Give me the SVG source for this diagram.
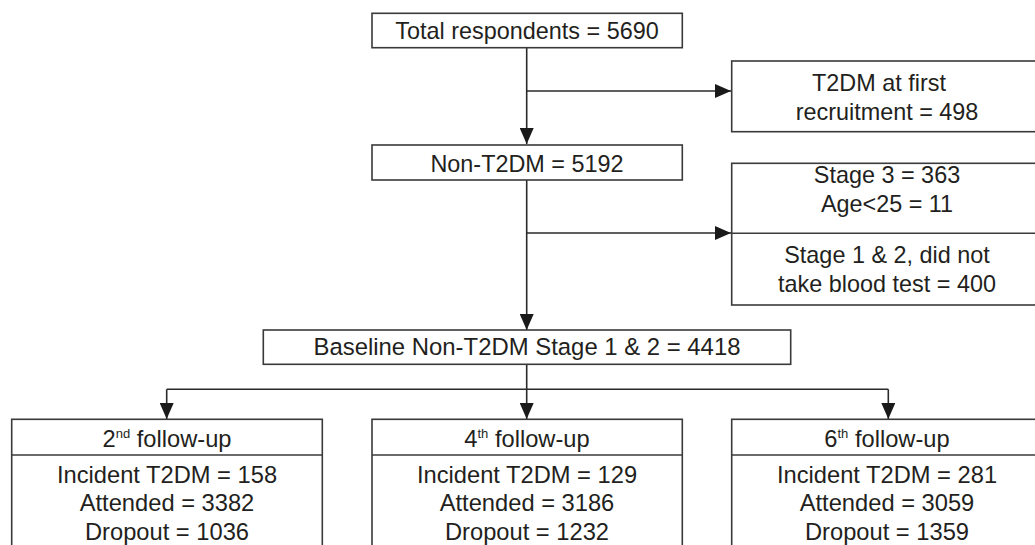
<svg xmlns="http://www.w3.org/2000/svg" width="1035" height="545" viewBox="0 0 1035 545">
<style>
.box{fill:#fff;stroke:#3a3a3a;stroke-width:1.6}
.div{stroke:#3a3a3a;stroke-width:1.6}
.t{font-family:"Liberation Sans",Arial,sans-serif;font-size:23.4px;fill:#231f20;text-anchor:middle}
.f{font-size:23.7px}
.b{font-size:23.9px}
.sup{font-size:13px}
.c{fill:none;stroke:#2a2a2a;stroke-width:1.6}
</style>
<defs>
<marker id="ah" markerUnits="userSpaceOnUse" markerWidth="17" markerHeight="14" refX="16" refY="7" orient="auto">
<path d="M0,0 L16,7 L0,14 z" fill="#1a1a1a"/>
</marker>
</defs>
<rect width="1035" height="545" fill="#fff"/>
<g id="connectors">
<path class="c" d="M526.7,47.7 V144" marker-end="url(#ah)"/>
<path class="c" d="M526.7,91 H731" marker-end="url(#ah)"/>
<path class="c" d="M526.7,180 V330" marker-end="url(#ah)"/>
<path class="c" d="M526.7,233 H731" marker-end="url(#ah)"/>
<path class="c" d="M526.7,364 V419" marker-end="url(#ah)"/>
<path class="c" d="M166.7,389.3 H888.3"/>
<path class="c" d="M166.7,389.3 V419" marker-end="url(#ah)"/>
<path class="c" d="M888.3,389.3 V419" marker-end="url(#ah)"/>
</g>
<g id="total">
<rect class="box" x="372" y="13.3" width="310.3" height="34.4"/>
<text class="t" x="527" y="39.3">Total respondents = 5690</text>
</g>
<g id="t2dm-first">
<rect class="box" x="731.7" y="61" width="320" height="70.7"/>
<text class="t" x="879" y="91">T2DM at first</text>
<text class="t" x="887" y="120">recruitment = 498</text>
</g>
<g id="non-t2dm">
<rect class="box" x="372" y="145" width="310.3" height="35"/>
<text class="t" x="527" y="171.7">Non-T2DM = 5192</text>
</g>
<g id="excluded">
<rect class="box" x="731.7" y="163.3" width="320" height="141.7"/>
<line class="div" x1="731.7" y1="233.3" x2="1051.7" y2="233.3"/>
<text class="t" x="887" y="183.3">Stage 3 = 363</text>
<text class="t" x="887" y="211.7">Age&lt;25 = 11</text>
<text class="t" x="887" y="263.3">Stage 1 &amp; 2, did not</text>
<text class="t" x="887" y="291.7">take blood test = 400</text>
</g>
<g id="baseline">
<rect class="box" x="263.3" y="330" width="527.4" height="34.3"/>
<text class="t b" x="527" y="355">Baseline Non-T2DM Stage 1 &amp; 2 = 4418</text>
</g>
<g id="fu2">
<rect class="box" x="11.7" y="419.3" width="310.6" height="140"/>
<line class="div" x1="11.7" y1="455" x2="322.3" y2="455"/>
<text class="t f" x="167" y="446.7">2<tspan class="sup" dy="-9">nd</tspan><tspan dy="9"> follow-up</tspan></text>
<text class="t f" x="167" y="482.7">Incident T2DM = 158</text>
<text class="t f" x="167" y="510.7">Attended = 3382</text>
<text class="t f" x="167" y="540">Dropout = 1036</text>
</g>
<g id="fu4">
<rect class="box" x="372" y="419.3" width="310.3" height="140"/>
<line class="div" x1="372" y1="455" x2="682.3" y2="455"/>
<text class="t f" x="527" y="446.7">4<tspan class="sup" dy="-9">th</tspan><tspan dy="9"> follow-up</tspan></text>
<text class="t f" x="527" y="482.7">Incident T2DM = 129</text>
<text class="t f" x="527" y="510.7">Attended = 3186</text>
<text class="t f" x="527" y="540">Dropout = 1232</text>
</g>
<g id="fu6">
<rect class="box" x="731.7" y="419.3" width="320" height="140"/>
<line class="div" x1="731.7" y1="455" x2="1051.7" y2="455"/>
<text class="t f" x="887" y="446.7">6<tspan class="sup" dy="-9">th</tspan><tspan dy="9"> follow-up</tspan></text>
<text class="t f" x="887" y="482.7">Incident T2DM = 281</text>
<text class="t f" x="887" y="510.7">Attended = 3059</text>
<text class="t f" x="887" y="540">Dropout = 1359</text>
</g>
</svg>
